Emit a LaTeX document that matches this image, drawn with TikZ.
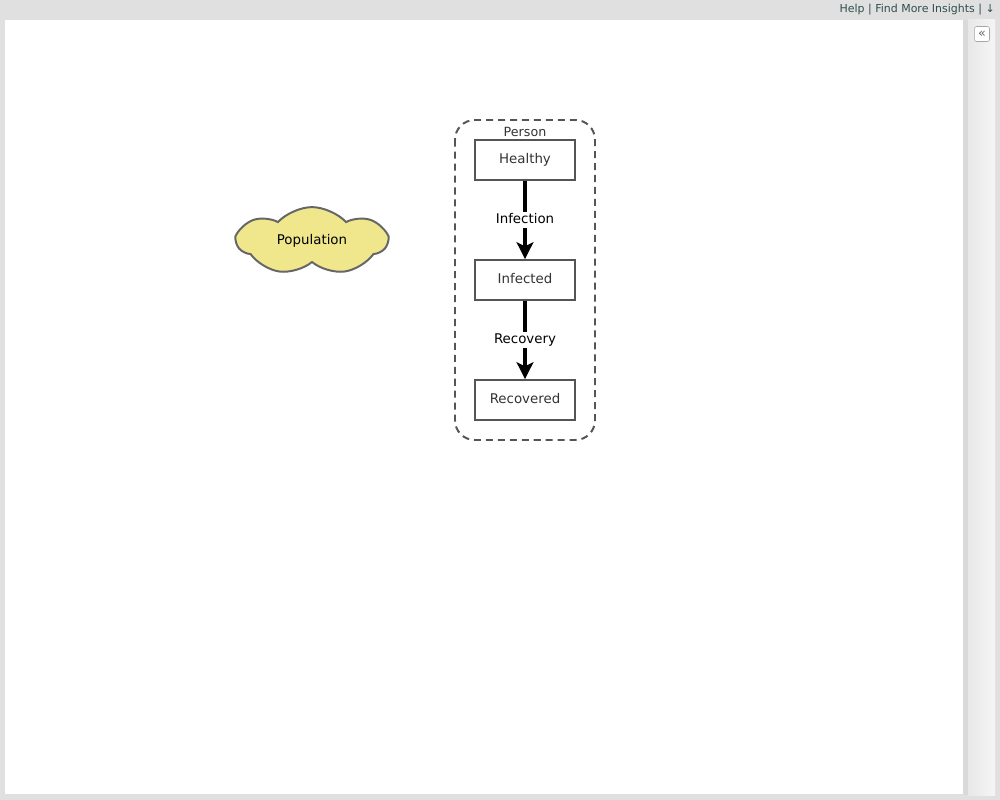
\documentclass[tikz,border=0pt]{standalone}
\usepackage{fontspec}
\setmainfont{DejaVu Sans}
\usepackage{tikz}
\usetikzlibrary{arrows.meta, positioning, shapes.symbols}

\definecolor{pagegray}{HTML}{E0E0E0}
\definecolor{sidegray}{HTML}{E8E8E8}
\definecolor{edgegray}{HTML}{555555}
\definecolor{cloudfill}{HTML}{F0E68C}
\definecolor{linkcol}{HTML}{2F4F4F}

\tikzset{
    statebox/.style={draw=edgegray, line width=1.4pt, fill=white, minimum width=100*0.709pt, minimum height=40*0.709pt, inner sep=0pt, text height=6.5pt, text depth=1pt, font=\fontsize{9.5}{11}\selectfont, text=black!80},
    flow/.style={line width=2.8pt, -{Stealth[length=12pt, width=12pt, inset=3pt]}},
    flowlabel/.style={fill=white, inner sep=1.5pt, text height=6.5pt, text depth=1.5pt, font=\fontsize{9.5}{11}\selectfont}
}

\begin{document}
\begin{tikzpicture}[x=0.025cm, y=-0.025cm]
    % page
    \fill[pagegray] (0,0) rectangle (1000,800);
    \useasboundingbox (0,0) rectangle (1000,800);
    \fill[white] (5,20) rectangle (963,794);
    \fill[black!15] (963,20) rectangle (968,795);
    \shade[left color=sidegray, right color=black!4] (968,20) rectangle (995,795);
    \node[draw=black!35, fill=white, rounded corners=1.5pt, minimum size=15*0.709pt, inner sep=0pt, font=\fontsize{9}{9}\selectfont, text=black!60] (collapse) at (982,34) {«};
    \node[anchor=east, text=linkcol, font=\fontsize{7.8}{9}\selectfont, inner sep=0pt] (menu) at (995,10) {Help | Find More Insights | ↓};

    % Person
    \draw[edgegray, line width=1.4pt, dash pattern=on 5pt off 3.5pt, rounded corners=14pt] (455,120) rectangle (595,440);
    \node[font=\fontsize{9}{10}\selectfont, text=black!80] (person) at (525,132) {Person};

    \node[statebox] (healthy) at (525,160) {Healthy};
    \node[statebox] (infected) at (525,280) {Infected};
    \node[statebox] (recovered) at (525,400) {Recovered};

    \draw[flow] (healthy) -- node[flowlabel] (infection) {Infection} (infected);
    \draw[flow] (infected) -- node[flowlabel] (recovery) {Recovery} (recovered);

    % Population
    \node[cloud, cloud puffs=7, cloud puff arc=95, aspect=2.4, draw=black!60, line width=1.4pt, fill=cloudfill, minimum width=150*0.709pt, minimum height=68*0.709pt, inner sep=0pt, font=\fontsize{9.5}{11}\selectfont] (population) at (312,241) {Population};
\end{tikzpicture}
\end{document}
